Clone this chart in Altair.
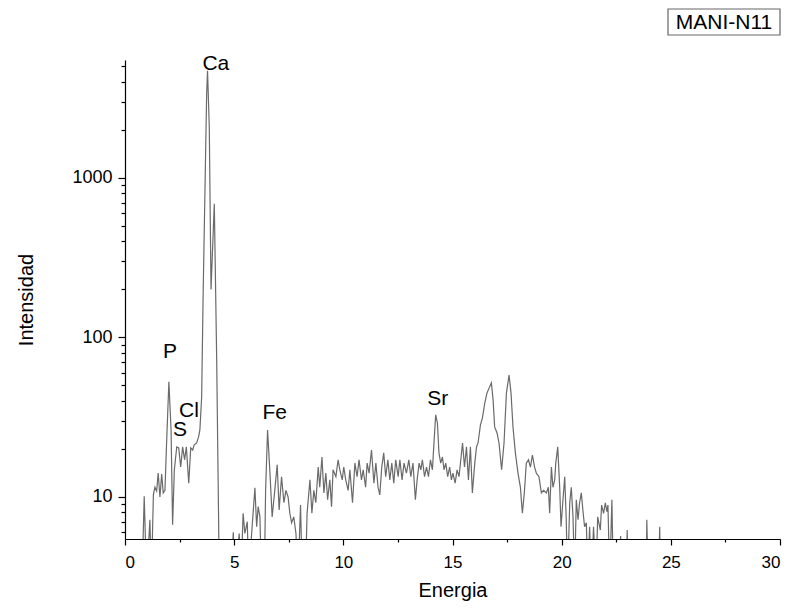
import altair as alt
import pandas as pd

# ---- data ----
energy = [0.78, 0.88, 0.99, 1.14, 1.21, 1.30, 1.37, 1.45, 1.52, 1.60, 1.68, 1.75, 1.83, 1.91, 2.01, 2.11, 2.18,
          2.26, 2.37, 2.46, 2.55, 2.64, 2.73, 2.81, 2.92, 3.01, 3.10, 3.17, 3.28, 3.37, 3.43, 3.51, 3.58, 3.66,
          3.74, 3.78, 3.86, 3.94, 4.09, 4.20, 4.32, 4.85, 4.96, 5.03, 5.23, 5.31, 5.41, 5.49, 5.60, 5.67, 5.80,
          5.95, 6.03, 6.10, 6.18, 6.25, 6.38, 6.44, 6.53, 6.64, 6.74, 6.86, 6.97, 7.06, 7.17, 7.28, 7.37, 7.47,
          7.55, 7.63, 7.73, 7.83, 7.92, 8.04, 8.12, 8.26, 8.34, 8.47, 8.56, 8.65, 8.74, 8.85, 8.92, 9.02, 9.11,
          9.20, 9.28, 9.38, 9.46, 9.53, 9.66, 9.76, 9.84, 9.95, 10.02, 10.11, 10.22, 10.30, 10.42, 10.53, 10.63,
          10.72, 10.83, 10.91, 11.02, 11.09, 11.18, 11.29, 11.40, 11.49, 11.59, 11.67, 11.76, 11.85, 11.94,
          12.04, 12.13, 12.22, 12.31, 12.40, 12.51, 12.59, 12.69, 12.78, 12.89, 13.00, 13.09, 13.19, 13.30,
          13.38, 13.47, 13.55, 13.62, 13.72, 13.81, 13.90, 13.99, 14.08, 14.16, 14.23, 14.31, 14.38, 14.46,
          14.54, 14.61, 14.69, 14.78, 14.87, 14.95, 15.02, 15.12, 15.21, 15.30, 15.38, 15.46, 15.55, 15.64,
          15.73, 15.82, 15.91, 16.02, 16.10, 16.17, 16.28, 16.37, 16.48, 16.58, 16.70, 16.78, 16.86, 16.93,
          17.04, 17.13, 17.25, 17.36, 17.47, 17.59, 17.68, 17.77, 17.88, 18.00, 18.11, 18.20, 18.29, 18.38,
          18.48, 18.57, 18.66, 18.76, 18.84, 18.96, 19.07, 19.17, 19.30, 19.39, 19.45, 19.53, 19.60, 19.68,
          19.73, 19.82, 19.91, 19.97, 20.06, 20.14, 20.21, 20.27, 20.37, 20.44, 20.52, 20.59, 20.67, 20.75,
          20.82, 20.90, 20.97, 21.05, 21.13, 21.20, 21.28, 21.36, 21.46, 21.57, 21.65, 21.77, 21.83, 21.92,
          22.00, 22.07, 22.12, 22.20, 22.30, 22.37, 22.65, 22.70, 22.74, 22.97, 23.00, 23.04, 23.87, 23.90,
          23.96, 24.44, 24.49, 24.53]
counts = [3, 10.1, 3, 7.2, 3, 10.3, 11.5, 10.9, 14.1, 10, 13.9, 10.6, 11, 22.8, 52.7, 26.3, 6.7,
          14.8, 20.6, 20.3, 15.4, 20.6, 17.1, 20.6, 12.2, 20.3, 19.7, 21.2, 21.8, 23.8, 26.3, 42, 190, 800,
          3400, 4700, 2100, 200, 690, 72, 3, 3, 6.0, 3, 5.9, 3, 7.9, 5.9, 7.0, 3, 5.9,
          11.4, 6.5, 8.7, 7.5, 3, 3, 11, 26.3, 14.1, 7.5, 11, 15.9, 8.3, 13.4, 9.2, 11, 10,
          7.9, 6.9, 7.5, 5.9, 3, 8.9, 3, 3, 7.9, 12.8, 7.9, 11, 9.2, 15.4, 11.5, 17.8, 10.6,
          14.1, 9.6, 12.8, 8.7, 14.8, 13.4, 17.1, 14.8, 12.8, 15.4, 12.8, 11, 14.8, 9.2, 16.3, 13.4,
          17.1, 12.8, 14.8, 11.5, 16.3, 14.1, 19.7, 12.2, 16.3, 11.5, 10.3, 15.4, 18.9, 13.4,
          17.1, 12.8, 16.3, 12.2, 17.1, 13.4, 17.1, 12.8, 16.3, 14.1, 17.1, 13.4, 16.3, 9.6,
          12.8, 16.3, 14.8, 17.1, 13.4, 15.4, 13.4, 17.1, 14.8, 22.8, 32.7, 29, 18.9, 16.3,
          17.8, 14.8, 16.3, 13.4, 15.4, 12.8, 14.1, 12.2, 14.8, 13.4, 17.1, 21.8, 15.4, 20.6,
          12.8, 20.6, 10.6, 16.3, 20.6, 21.8, 28.3, 31.3, 38.9, 44.9, 49, 51.9, 40.6, 27.5,
          25.2, 21.8, 14.8, 21.8, 44.9, 58, 44.9, 27.5, 18.9, 14.1, 11.5, 7.9, 10.6, 16.3,
          17.1, 15.4, 18.3, 15.4, 14.1, 13.4, 10.6, 11, 10.6, 11.5, 7.9, 15.4, 11.5, 12.8,
          16.3, 20.6, 11.5, 6.5, 9.6, 13.4, 7.2, 3, 9.2, 11.5, 7.5, 3, 9.6, 7.2,
          9.2, 10.6, 8.3, 6.5, 6.9, 3, 6.5, 3, 6.5, 3, 7.5, 6.2, 8.9, 7.9,
          9.2, 8.1, 8.9, 3, 9.6, 3, 3, 5.7, 3, 3, 6.2, 3, 3, 7.2,
          3, 3, 6.5, 3]

peak_labels = ["Ca", "P", "Cl", "S", "Fe", "Sr"]
label_energy = [4.16, 2.06, 2.93, 2.52, 6.86, 14.32]
label_counts = [5190, 81, 34.6, 26.3, 33.7, 41.1]

x_major = [0, 5, 10, 15, 20, 25, 30]
x_minor = [2.5, 7.5, 12.5, 17.5, 22.5, 27.5]
y_major = [10, 100, 1000]
y_minor = [6, 7, 8, 9, 20, 30, 40, 50, 60, 70, 80, 90,
           200, 300, 400, 500, 600, 700, 800, 900, 2000, 3000, 4000, 5000]

sample_name = ["MANI-N11"]

FONT = "Liberation Sans"

spec = pd.DataFrame({"E": energy, "I": counts})
lab = pd.DataFrame({"E": label_energy, "I": label_counts, "name": peak_labels})
box = pd.DataFrame({"name": sample_name})

x_scale = alt.Scale(domain=[0, 30], nice=False)
y_scale = alt.Scale(type="log", domain=[5.45, 5490], nice=False)

common = dict(domainColor="black", tickColor="black", labelColor="black", titleColor="black",
              grid=False, domainWidth=1.2, tickWidth=1.2, labelFont=FONT, titleFont=FONT,
              titleFontSize=20, titleFontWeight="normal")

line = alt.Chart(spec).mark_line(color="#6a6a6a", strokeWidth=1.2, clip=True).encode(
    x=alt.X("E:Q", scale=x_scale,
            axis=alt.Axis(values=x_major, format="d", title="Energia", orient="bottom",
                          tickSize=6, labelPadding=9, labelFontSize=17, titleX=327.5, titleY=51,
                          titleBaseline="middle", titleAlign="center", **common)),
    y=alt.Y("I:Q", scale=y_scale,
            axis=alt.Axis(values=y_major, format="d", title="Intensidad", orient="left",
                          tickSize=7, labelPadding=6, labelFontSize=18, titleX=-99, titleY=239.5,
                          titleAngle=-90, titleBaseline="middle", titleAlign="center", **common)),
)

minor = alt.Chart(spec).mark_line(opacity=0).encode(
    x=alt.X("E:Q", scale=x_scale,
            axis=alt.Axis(values=x_minor, labels=False, domain=False, title=None, orient="bottom",
                          tickSize=3, tickWidth=1.2, tickColor="black", grid=False)),
    y=alt.Y("I:Q", scale=y_scale,
            axis=alt.Axis(values=y_minor, labels=False, domain=False, title=None, orient="left",
                          tickSize=4, tickWidth=1.2, tickColor="black", grid=False)),
)

labels = alt.Chart(lab).mark_text(font=FONT, fontSize=21, color="black",
                                  align="center", baseline="middle").encode(
    x=alt.X("E:Q", scale=x_scale, axis=None),
    y=alt.Y("I:Q", scale=y_scale, axis=None),
    text="name:N",
)

frame = alt.Chart(box).mark_rect(fill="white", stroke="#666666", strokeWidth=1.2).encode(
    x=alt.value(543), x2=alt.value(655), y=alt.value(-51), y2=alt.value(-25)
)
frame_text = alt.Chart(box).mark_text(font=FONT, fontSize=21, color="black",
                                      align="center", baseline="middle").encode(
    x=alt.value(599), y=alt.value(-37), text="name:N"
)

chart = alt.layer(line, minor, labels, frame, frame_text).resolve_axis(
    x="independent", y="independent"
).properties(
    width=655, height=479,
    autosize=alt.AutoSizeParams(type="none"),
    padding={"left": 117, "top": 52, "right": 5, "bottom": 63},
).configure_view(stroke=None)

chart.save("out.html", embed_options={"renderer": "svg", "actions": False})
